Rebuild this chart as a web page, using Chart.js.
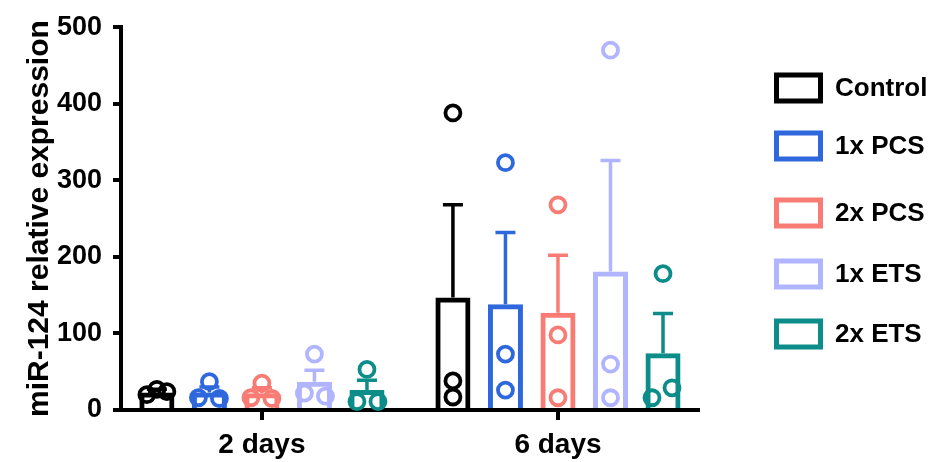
<!DOCTYPE html>
<html>
<head>
<meta charset="utf-8">
<script src="https://cdn.jsdelivr.net/npm/chart.js@4.4.1/dist/chart.umd.min.js"></script>
<style>
  html, body { margin: 0; padding: 0; background: #fff; }
  #wrap { width: 928px; height: 462px; }
</style>
</head>
<body>
<div id="wrap"><canvas id="chartExpression" width="928" height="462"></canvas></div>
<script>
const groups = ['2 days', '6 days'];
const seriesNames = ['Control', '1x PCS', '2x PCS', '1x ETS', '2x ETS'];
const seriesColors = ['#000000', '#2F68DC', '#F87C74', '#B1B4FF', '#0C8D8A'];

// bar heights (mean) per group
const meanControl = [23, 147];
const meanPcs1 = [23, 138];
const meanPcs2 = [22, 127];
const meanEts1 = [37, 181];
const meanEts2 = [26, 74];

// SEM, drawn upward only
const semControl = [4, 121];
const semPcs1 = [7, 94];
const semPcs2 = [7, 75];
const semEts1 = [15, 145];
const semEts2 = [13, 52];

// single replicates
const ptsControl = [[20, 27, 24], [388, 38, 17]];
const ptsPcs1 = [[37, 16, 15], [323, 73, 26]];
const ptsPcs2 = [[35, 16, 15], [268, 98, 16]];
const ptsEts1 = [[73, 22, 18], [470, 60, 16]];
const ptsEts2 = [[53, 11, 11], [178, 29, 16]];

const means = [meanControl, meanPcs1, meanPcs2, meanEts1, meanEts2];
const sems = [semControl, semPcs1, semPcs2, semEts1, semEts2];
const points = [ptsControl, ptsPcs1, ptsPcs2, ptsEts1, ptsEts2];

// horizontal spread of the dots inside each bar (px)
const spread = [
  [[-10, 0, 10], [0, 0, 0]],
  [[0, -11, 10], [0, 0, 0]],
  [[0, -11, 10], [0, 0, 0]],
  [[0, -10, 11], [0, 0, 0]],
  [[0, -10, 11], [0, 9, -11]]
];

// legend rows (px from top)
const legendRows = [88, 146, 213, 274, 334];

const FONT = '"Liberation Sans", Arial, Helvetica, sans-serif';
Chart.defaults.font.family = FONT;
Chart.defaults.color = '#000';

const errorBarsAndDots = {
  id: 'errorBarsAndDots',
  afterDatasetsDraw(chart) {
    const ctx = chart.ctx;
    const yScale = chart.scales.y;
    chart.data.datasets.forEach((ds, i) => {
      const meta = chart.getDatasetMeta(i);
      meta.data.forEach((bar, j) => {
        const top = yScale.getPixelForValue(means[i][j] + sems[i][j]);
        ctx.save();
        ctx.strokeStyle = ds.borderColor;
        ctx.lineWidth = 3.5;
        ctx.beginPath();
        ctx.moveTo(bar.x, bar.y);
        ctx.lineTo(bar.x, top);
        ctx.moveTo(bar.x - 10, top);
        ctx.lineTo(bar.x + 10, top);
        ctx.stroke();
        ctx.lineWidth = 3.8;
        points[i][j].forEach((v, k) => {
          ctx.beginPath();
          ctx.arc(bar.x + spread[i][j][k], yScale.getPixelForValue(v), 7.5, 0, Math.PI * 2);
          ctx.stroke();
        });
        ctx.restore();
      });
    });
  }
};

const legendBoxes = {
  id: 'legendBoxes',
  afterDraw(chart) {
    const ctx = chart.ctx;
    ctx.save();
    ctx.font = 'bold 26px ' + FONT;
    ctx.textBaseline = 'middle';
    chart.data.datasets.forEach((ds, i) => {
      const cy = legendRows[i];
      ctx.strokeStyle = ds.borderColor;
      ctx.lineWidth = 5;
      ctx.strokeRect(776.5, cy - 13, 44, 26);
      ctx.fillStyle = '#000';
      ctx.fillText(ds.label, 835, cy + 1);
    });
    ctx.restore();
  }
};

new Chart(document.getElementById('chartExpression'), {
  type: 'bar',
  data: {
    datasets: seriesNames.map((name, i) => ({
      label: name,
      data: means[i].map((v, j) => ({ x: j, y: v })),
      backgroundColor: 'rgba(255,255,255,0)',
      borderColor: seriesColors[i],
      borderWidth: 5,
      barPercentage: 0.667,
      categoryPercentage: 0.887
    }))
  },
  options: {
    responsive: false,
    animation: false,
    devicePixelRatio: 1,
    layout: { padding: { top: 26, right: 230, left: 0, bottom: 0 } },
    plugins: {
      legend: { display: false },
      tooltip: { enabled: false }
    },
    scales: {
      x: {
        type: 'linear',
        bounds: 'data',
        offset: false,
        min: -0.476,
        max: 1.473,
        afterBuildTicks: s => { s.ticks = groups.map((g, i) => ({ value: i })); },
        afterFit: s => { s.height = 52; },
        ticks: {
          callback: (v, idx) => groups[idx],
          font: { size: 28, weight: 'bold' },
          color: '#000',
          padding: 8,
          autoSkip: false,
          maxRotation: 0
        },
        grid: { display: true, offset: false, drawOnChartArea: false, drawTicks: true, tickLength: 10, lineWidth: 4, color: '#000' },
        border: { display: true, width: 4, color: '#000' }
      },
      y: {
        min: 0,
        max: 500,
        afterFit: s => { s.width = 121; },
        ticks: {
          stepSize: 100,
          font: { size: 27, weight: 'bold' },
          color: '#000',
          padding: 11
        },
        grid: { display: true, drawOnChartArea: false, drawTicks: true, tickLength: 8, lineWidth: 4, color: '#000' },
        border: { display: true, width: 4, color: '#000' },
        title: {
          display: true,
          text: 'miR-124 relative expression',
          font: { size: 30, weight: 'bold' },
          color: '#000',
          padding: { top: 22, bottom: 0 }
        }
      }
    }
  },
  plugins: [errorBarsAndDots, legendBoxes]
});
</script>
</body>
</html>
